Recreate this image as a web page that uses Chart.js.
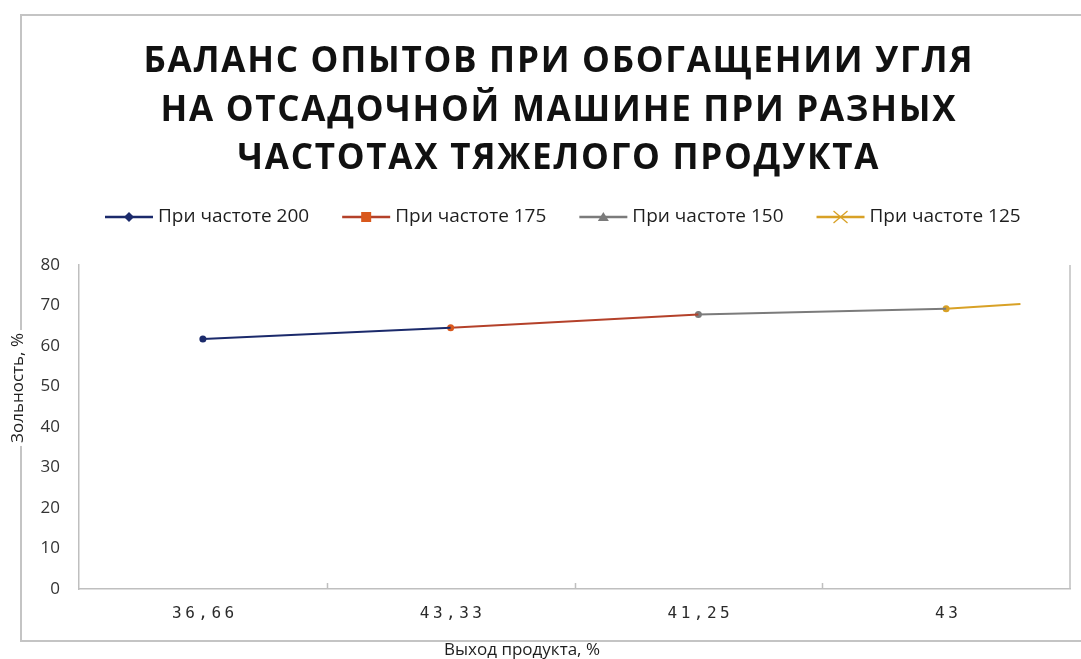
<!DOCTYPE html>
<html>
<head>
<meta charset="utf-8">
<script src="https://cdn.jsdelivr.net/npm/chart.js@4.4.1/dist/chart.umd.min.js"></script>
<style>
  html, body { margin: 0; padding: 0; background: #ffffff; }
  #wrap { width: 1081px; height: 659px; position: relative; }
</style>
</head>
<body>
<div id="wrap"><canvas id="c" width="1081" height="659"></canvas></div>
<script>
// Chart text
const titleLines = [
  'БАЛАНС ОПЫТОВ ПРИ ОБОГАЩЕНИИ УГЛЯ',
  'НА ОТСАДОЧНОЙ МАШИНЕ ПРИ РАЗНЫХ',
  'ЧАСТОТАХ ТЯЖЕЛОГО ПРОДУКТА'
];
const xAxisTitle = 'Выход продукта, %';
const yAxisTitle = 'Зольность, %';

// Categories on the x axis (product yield, %)
const categories = ['36,66', '43,33', '41,25', '43'];

// Series names
const seriesNames = ['При частоте 200', 'При частоте 175', 'При частоте 150', 'При частоте 125'];

// Ash content per series, x = category index
const freq200 = [{ x: 0, y: 61.7 }, { x: 1, y: 64.5 }];
const freq175 = [{ x: 1, y: 64.5 }, { x: 2, y: 67.8 }];
const freq150 = [{ x: 2, y: 67.8 }, { x: 3, y: 69.2 }];
const freq125 = [{ x: 3, y: 69.2 }, { x: 3.3, y: 70.4 }];

// Y axis range
const yMin = 0, yMax = 80, yStep = 10;

const colors = {
  navy: '#1b2a6b',
  red: '#b4412a',
  redMarker: '#d9581c',
  grey: '#7b7b7b',
  gold: '#d8a126',
  axis: '#bfbfbf',
  frame: '#c4c4c4',
  text: '#333333'
};

const FONT = '"Open Sans", "Noto Sans", sans-serif';

function legendMarker(ctx, kind, cx, cy, color) {
  ctx.save();
  ctx.fillStyle = color;
  ctx.strokeStyle = color;
  ctx.beginPath();
  if (kind === 'diamond') {
    ctx.moveTo(cx, cy - 5); ctx.lineTo(cx + 5, cy); ctx.lineTo(cx, cy + 5); ctx.lineTo(cx - 5, cy);
    ctx.closePath(); ctx.fill();
  } else if (kind === 'square') {
    ctx.rect(cx - 5, cy - 5, 10, 10); ctx.fill();
  } else if (kind === 'triangle') {
    ctx.moveTo(cx, cy - 5); ctx.lineTo(cx + 5.5, cy + 4); ctx.lineTo(cx - 5.5, cy + 4);
    ctx.closePath(); ctx.fill();
  } else if (kind === 'cross') {
    ctx.lineWidth = 1.3;
    ctx.moveTo(cx - 7, cy - 6); ctx.lineTo(cx + 7, cy + 6);
    ctx.moveTo(cx + 7, cy - 6); ctx.lineTo(cx - 7, cy + 6);
    ctx.stroke();
  }
  ctx.restore();
}

const decorations = {
  id: 'decorations',
  beforeDraw(chart) {
    const ctx = chart.ctx;
    ctx.save();
    ctx.fillStyle = '#ffffff';
    ctx.fillRect(0, 0, chart.width, chart.height);
    // outer frame
    ctx.strokeStyle = colors.frame;
    ctx.lineWidth = 2;
    ctx.beginPath();
    ctx.moveTo(1081, 15); ctx.lineTo(21, 15); ctx.lineTo(21, 641); ctx.lineTo(1081, 641);
    ctx.stroke();
    ctx.restore();
  },
  afterDraw(chart) {
    const ctx = chart.ctx;
    const area = chart.chartArea;
    const xs = chart.scales.x;
    ctx.save();

    // right edge of plot area
    ctx.strokeStyle = colors.axis;
    ctx.lineWidth = 1.5;
    ctx.beginPath();
    ctx.moveTo(area.right, area.top);
    ctx.lineTo(area.right, area.bottom);
    ctx.stroke();

    // category boundary ticks
    ctx.beginPath();
    for (let i = 0; i < categories.length - 1; i++) {
      const px = Math.round(xs.getPixelForValue(i + 0.5)) + 0.5;
      ctx.moveTo(px, area.bottom);
      ctx.lineTo(px, area.bottom - 6);
    }
    ctx.stroke();

    // category labels
    ctx.fillStyle = '#2a2a2a';
    ctx.font = '16px "DejaVu Sans Mono", monospace';
    ctx.letterSpacing = '3.5px';
    ctx.textAlign = 'center';
    ctx.textBaseline = 'middle';
    categories.forEach((lab, i) => {
      ctx.fillText(lab, xs.getPixelForValue(i) + 2, area.bottom + 25);
    });
    ctx.letterSpacing = '0px';

    // title
    ctx.fillStyle = '#111111';
    ctx.font = 'bold 35px ' + FONT;
    ctx.textBaseline = 'alphabetic';
    const w0 = ctx.measureText(titleLines[0]).width;
    const spacing = (829 - w0) / (titleLines[0].length - 1);
    ctx.letterSpacing = spacing.toFixed(2) + 'px';
    const baselines = [72, 121, 169];
    titleLines.forEach((t, i) => ctx.fillText(t, 558 + spacing / 2, baselines[i]));
    ctx.letterSpacing = '0px';

    // legend
    const legend = [
      { name: seriesNames[0], color: colors.navy, marker: 'diamond', mColor: colors.navy },
      { name: seriesNames[1], color: colors.red, marker: 'square', mColor: colors.redMarker },
      { name: seriesNames[2], color: colors.grey, marker: 'triangle', mColor: colors.grey },
      { name: seriesNames[3], color: colors.gold, marker: 'cross', mColor: colors.gold }
    ];
    ctx.font = '19px ' + FONT;
    ctx.textAlign = 'left';
    ctx.textBaseline = 'middle';
    let lx = 105;
    const ly = 217;
    legend.forEach(item => {
      ctx.strokeStyle = item.color;
      ctx.lineWidth = 2.5;
      ctx.beginPath();
      ctx.moveTo(lx, ly); ctx.lineTo(lx + 48, ly);
      ctx.stroke();
      legendMarker(ctx, item.marker, lx + 24, ly, item.mColor);
      ctx.fillStyle = '#1e1e1e';
      ctx.fillText(item.name, lx + 53, ly);
      lx += 53 + ctx.measureText(item.name).width + 33;
    });

    // axis titles
    ctx.font = '17px ' + FONT;
    ctx.fillStyle = '#1e1e1e';
    ctx.textAlign = 'center';
    ctx.textBaseline = 'middle';
    ctx.fillText(xAxisTitle, 522, 650);

    ctx.translate(18, 388);
    ctx.rotate(-Math.PI / 2);
    const yw = ctx.measureText(yAxisTitle).width;
    ctx.fillStyle = '#ffffff';
    ctx.fillRect(-yw / 2 - 3, -10, yw + 6, 20);
    ctx.fillStyle = '#1e1e1e';
    ctx.fillText(yAxisTitle, 0, 0);

    ctx.restore();
  }
};

function lineSet(label, data, color, pointColor, radii) {
  return {
    label: label,
    data: data,
    borderColor: color,
    backgroundColor: pointColor,
    borderWidth: 2,
    pointStyle: 'circle',
    pointRadius: radii,
    pointBorderWidth: 0,
    pointBackgroundColor: pointColor,
    tension: 0
  };
}

new Chart(document.getElementById('c'), {
  type: 'line',
  data: {
    datasets: [
      lineSet(seriesNames[0], freq200, colors.navy, colors.navy, [3.5, 0]),
      lineSet(seriesNames[1], freq175, colors.red, colors.redMarker, [3.5, 0]),
      lineSet(seriesNames[2], freq150, colors.grey, colors.grey, [3.5, 0]),
      lineSet(seriesNames[3], freq125, colors.gold, colors.gold, [3.5, 0])
    ]
  },
  options: {
    responsive: false,
    animation: false,
    devicePixelRatio: 1,
    layout: { padding: { top: 265, left: 0, right: 11, bottom: 0 } },
    plugins: {
      legend: { display: false },
      title: { display: false },
      tooltip: { enabled: false }
    },
    scales: {
      x: {
        type: 'linear',
        min: -0.5,
        max: categories.length - 0.5,
        grid: { display: false, drawTicks: false },
        border: { display: true, color: colors.axis, width: 1.5 },
        ticks: { display: false },
        afterBuildTicks: s => { s.ticks = categories.map((_, i) => ({ value: i })); },
        afterFit: s => { s.height = 70; s.paddingLeft = 0; s.paddingRight = 0; }
      },
      y: {
        min: yMin,
        max: yMax,
        grid: { display: false, drawTicks: false },
        border: { display: true, color: colors.axis, width: 1.5 },
        ticks: {
          stepSize: yStep,
          padding: 19,
          color: colors.text,
          font: { family: FONT, size: 17 }
        },
        afterFit: s => { s.width = 79; s.paddingTop = 0; s.paddingBottom = 0; }
      }
    }
  },
  plugins: [decorations]
});
</script>
</body>
</html>
